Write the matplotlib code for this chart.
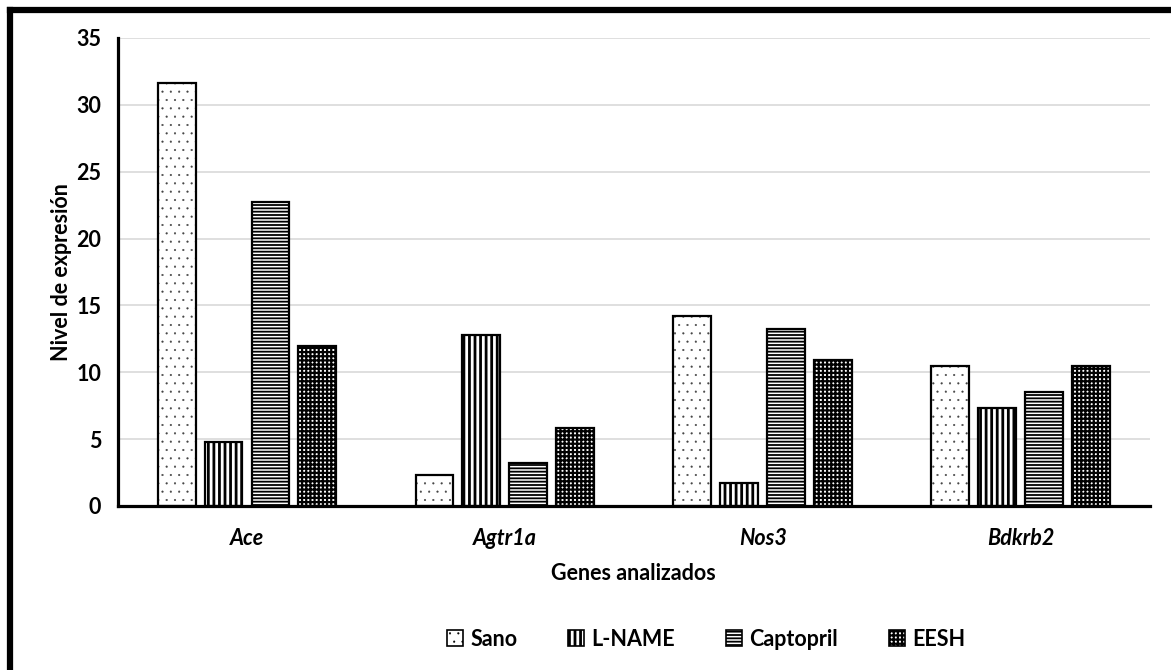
import matplotlib
matplotlib.use('Agg')
import matplotlib.pyplot as plt
import numpy as np
from matplotlib.lines import Line2D
from matplotlib.patches import Patch

plt.rcParams['font.family'] = ['Lato', 'DejaVu Sans']

# datos
genes = ['Ace', 'Agtr1a', 'Nos3', 'Bdkrb2']
grupos = ['Sano', 'L-NAME', 'Captopril', 'EESH']
sano = [31.6, 2.3, 14.2, 10.5]
lname = [4.8, 12.8, 1.7, 7.35]
captopril = [22.75, 3.2, 13.2, 8.55]
eesh = [12.0, 5.8, 10.95, 10.5]
series = [sano, lname, captopril, eesh]

# estilo de cada grupo: (hatch, grosor de hatch, color de hatch)
estilos = [('..', 0.3, '#444444'), ('|||', 2.0, 'black'),
           ('-----', 1.3, 'black'), ('++++', 1.6, 'black')]
fs = 15.5


def con_grosor(artist, lw):
    # grosor del hatch por artista (segun version de matplotlib)
    if hasattr(artist, 'set_hatch_linewidth'):
        artist.set_hatch_linewidth(lw)
    orig = artist.draw

    def draw(renderer):
        with plt.rc_context({'hatch.linewidth': lw}):
            orig(renderer)
    artist.draw = draw


fig = plt.figure(figsize=(11.71, 6.70), dpi=100)
ax = fig.add_axes([0.1008, 0.2448, 0.881, 0.6985])

x = np.arange(len(genes))
ancho = 0.147
paso = 0.182

for i, (vals, (hatch, hlw, hcol)) in enumerate(zip(series, estilos)):
    pos = x + (i - 1.5) * paso
    plt.rcParams['hatch.linewidth'] = hlw
    bars = ax.bar(pos, vals, ancho, color='white', edgecolor=hcol,
                  linewidth=0, hatch=hatch, zorder=3)
    for b in bars:
        con_grosor(b, hlw)
    ax.bar(pos, vals, ancho, fill=False, edgecolor='black', linewidth=1.6,
           zorder=3.5)

ax.set_xlim(-0.5, len(genes) - 0.5)
ax.set_ylim(0, 35)
ax.set_yticks(range(0, 36, 5))
ax.set_xticks(x)
ax.set_xticklabels(genes, fontsize=fs, fontweight='bold', fontstyle='italic')
for lab in ax.get_yticklabels():
    lab.set_fontsize(fs)
    lab.set_fontweight('bold')
ax.tick_params(axis='both', length=0)
ax.tick_params(axis='y', pad=12)
ax.tick_params(axis='x', pad=16)

ax.grid(axis='y', color='#d9d9d9', linewidth=1.2, zorder=0)
ax.set_axisbelow(True)
for s in ['top', 'right']:
    ax.spines[s].set_visible(False)
ax.spines['left'].set_linewidth(2.3)
ax.spines['bottom'].set_linewidth(2.3)
ax.spines['left'].set_zorder(4)
ax.spines['bottom'].set_zorder(4)

ax.set_xlabel('Genes analizados', fontsize=fs, fontweight='bold', labelpad=10)
ax.set_ylabel('Nivel de expresión', fontsize=fs, fontweight='bold')
ax.yaxis.set_label_coords(-0.045, 0.5)

# leyenda
handles = []
for hatch, hlw, hcol in estilos:
    plt.rcParams['hatch.linewidth'] = hlw
    p = Patch(facecolor='white', edgecolor='black', hatch=hatch, linewidth=1.2)
    handles.append(p)
leg = fig.legend(handles, grupos, loc='center', bbox_to_anchor=(0.603, 0.046),
                 ncol=4, frameon=False, handlelength=0.75, handleheight=0.75,
                 handletextpad=0.35, columnspacing=2.35,
                 prop={'size': fs, 'weight': 'bold'})
for h, est in zip(leg.get_patches(), estilos):
    con_grosor(h, est[1])

# borde del gráfico
fig.add_artist(Line2D([0.0085, 1.0], [0.9855, 0.9855], color='black', linewidth=4.5,
                      transform=fig.transFigure))
fig.add_artist(Line2D([0.0085, 0.0085], [0.0, 0.9855], color='black', linewidth=4.5,
                      transform=fig.transFigure))

fig.savefig('out.png', dpi=100)
